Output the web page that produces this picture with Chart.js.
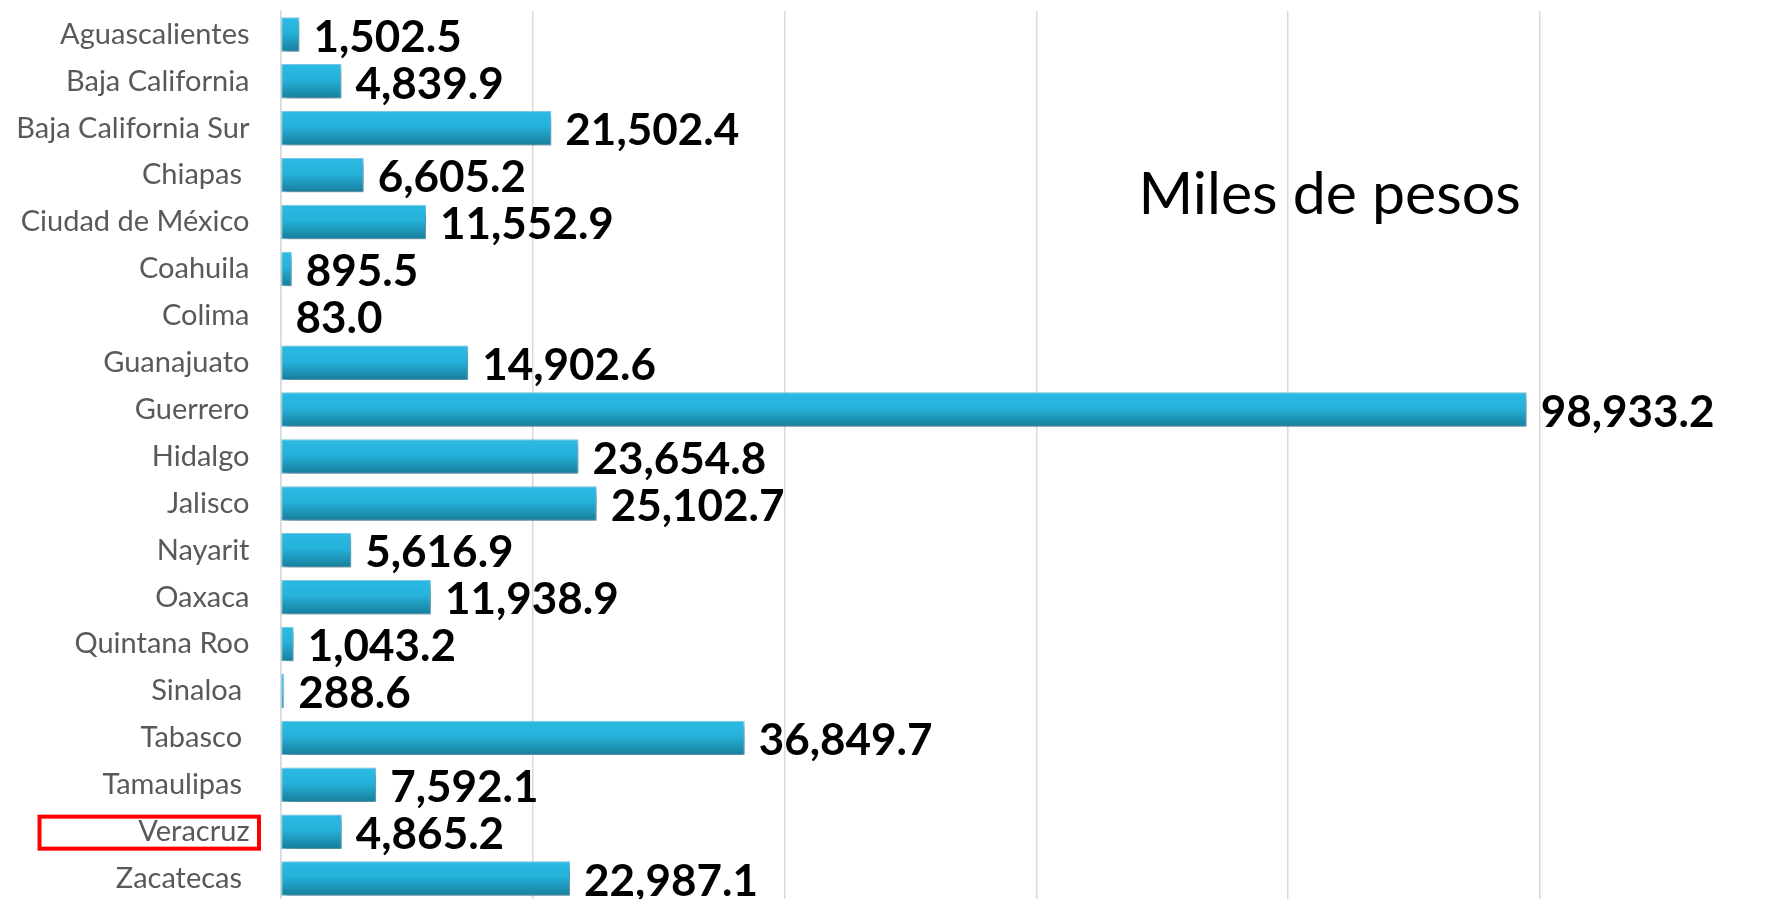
<!DOCTYPE html>
<html>
<head>
<meta charset="utf-8">
<script src="https://cdn.jsdelivr.net/npm/chart.js@4/dist/chart.umd.min.js"></script>
<style>
  html, body { margin: 0; padding: 0; background: #fff; overflow: hidden; }
  #wrap { position: absolute; left: 0; top: 0; width: 1800px; height: 902px; }
</style>
</head>
<body>
<div id="wrap"><canvas id="myChart" width="1800" height="902"></canvas></div>
<script>
var estados = [
    'Aguascalientes', 'Baja California', 'Baja California Sur', 'Chiapas ',
    'Ciudad de México', 'Coahuila', 'Colima', 'Guanajuato', 'Guerrero',
    'Hidalgo', 'Jalisco', 'Nayarit', 'Oaxaca', 'Quintana Roo', 'Sinaloa ',
    'Tabasco ', 'Tamaulipas ', 'Veracruz', 'Zacatecas '
];
var montos = [
    1502.5, 4839.9, 21502.4, 6605.2, 11552.9, 895.5, 83.0, 14902.6, 98933.2,
    23654.8, 25102.7, 5616.9, 11938.9, 1043.2, 288.6, 36849.7, 7592.1, 4865.2, 22987.1
];
var unidad = 'Miles de pesos';
var resaltado = 'Veracruz';
var ejeMax = 120000;
var ejePaso = 20000;

function formato(v) {
    return v.toLocaleString('en-US', { minimumFractionDigits: 1, maximumFractionDigits: 1 });
}

// degradado vertical para cada barra
function relleno(context) {
    var chart = context.chart;
    var ys = chart.scales.y;
    if (!ys || context.dataIndex === undefined || !chart.chartArea) {
        return '#29b6e0';
    }
    var yc = ys.getPixelForValue(context.dataIndex);
    var h = (ys.height / estados.length) * 0.735 / 2;
    var g = chart.ctx.createLinearGradient(0, yc - h, 0, yc + h);
    g.addColorStop(0, '#2bbae3');
    g.addColorStop(0.45, '#26b2da');
    g.addColorStop(1, '#177d9b');
    return g;
}

var sombra = {
    id: 'sombra',
    beforeDatasetsDraw: function (chart) {
        var ctx = chart.ctx;
        ctx.save();
        ctx.shadowColor = 'rgba(0, 0, 0, 0.38)';
        ctx.shadowBlur = 7;
        ctx.shadowOffsetX = 3;
        ctx.shadowOffsetY = 4;
    },
    afterDatasetsDraw: function (chart) {
        chart.ctx.restore();
    }
};

var etiquetas = {
    id: 'etiquetas',
    afterDraw: function (chart) {
        var ctx = chart.ctx;
        var meta = chart.getDatasetMeta(0);
        ctx.save();
        ctx.fillStyle = '#000';
        ctx.font = 'bold 44px Lato';
        ctx.textAlign = 'left';
        ctx.textBaseline = 'middle';
        meta.data.forEach(function (bar, i) {
            ctx.fillText(formato(montos[i]), bar.x + 14, bar.y + 3);
        });

        // texto de unidades
        ctx.font = '59px Lato';
        ctx.textBaseline = 'alphabetic';
        ctx.fillText(unidad, chart.chartArea.left + 858, 214);

        // recuadro rojo
        var ys = chart.scales.y;
        var idx = estados.indexOf(resaltado);
        var yc = ys.getPixelForValue(idx);
        ctx.strokeStyle = '#ff0000';
        ctx.lineWidth = 4;
        ctx.strokeRect(ys.left + 39.5, yc - 15, ys.right - ys.left - 61, 32);
        ctx.restore();
    }
};

var ctx = document.getElementById('myChart');
var myChart = new Chart(ctx, {
    type: 'bar',
    data: {
        labels: estados,
        datasets: [{
            data: montos,
            backgroundColor: relleno,
            borderColor: 'rgba(110, 200, 232, 0.9)',
            borderWidth: 1,
            borderSkipped: false,
            categoryPercentage: 1,
            barPercentage: 0.735
        }]
    },
    options: {
        indexAxis: 'y',
        responsive: false,
        animation: false,
        layout: { padding: { top: 11, right: 8, bottom: 0, left: 0 } },
        plugins: {
            legend: { display: false },
            tooltip: { enabled: false }
        },
        scales: {
            x: {
                min: 0,
                max: ejeMax,
                ticks: { display: false, stepSize: ejePaso },
                grid: { color: '#d9d9d9', lineWidth: 1.5, drawTicks: false },
                border: { display: false }
            },
            y: {
                ticks: {
                    color: '#595959',
                    font: { family: 'Lato', size: 29 },
                    padding: 31
                },
                grid: { display: false, drawTicks: false },
                border: { display: true, color: '#d9d9d9', width: 1.5 },
                afterFit: function (scale) {
                    scale.width = 280.5;
                    scale.paddingTop = 0;
                    scale.paddingBottom = 0;
                }
            }
        }
    },
    plugins: [sombra, etiquetas]
});
</script>
</body>
</html>
